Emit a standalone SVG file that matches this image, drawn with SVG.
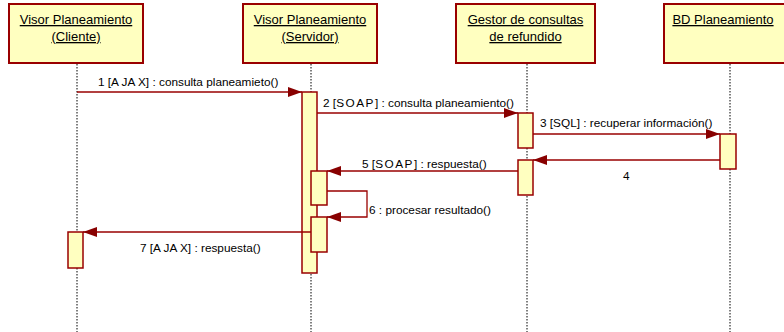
<svg xmlns="http://www.w3.org/2000/svg" width="784" height="332" viewBox="0 0 784 332">
<defs>
<style>
.box{fill:#FFFFC0;stroke:#990000;stroke-width:2}
.act{fill:#FFFFC0;stroke:#990000;stroke-width:1.5}
.life{stroke:#000;stroke-width:1;stroke-dasharray:1.5,1.5;fill:none}
.msg{stroke:#990000;stroke-width:1.3;fill:none}
.ht{font-family:"Liberation Sans",Arial,sans-serif;font-size:13px;fill:#000;text-anchor:middle;text-decoration:underline}
.mt{font-family:"Liberation Sans",Arial,sans-serif;font-size:11.8px;fill:#000}
</style>
<marker id="ah" viewBox="0 0 14 10" refX="14" refY="5" markerWidth="14" markerHeight="10" markerUnits="userSpaceOnUse" orient="auto">
<path d="M0,0 L14,5 L0,10 Z" fill="#880000"/>
</marker>
</defs>
<rect width="784" height="332" fill="#fff"/>
<g id="lifelines">
<line class="life" x1="77" y1="64" x2="77" y2="332"/>
<line class="life" x1="311" y1="64" x2="311" y2="332"/>
<line class="life" x1="527" y1="64" x2="527" y2="332"/>
<line class="life" x1="730" y1="64" x2="730" y2="332"/>
</g>
<g id="node-cliente">
<rect class="box" x="9" y="4" width="134" height="59"/>
<text class="ht" x="76" y="24">Visor Planeamiento</text>
<text class="ht" x="76" y="41">(Cliente)</text>
</g>
<g id="node-servidor">
<rect class="box" x="243" y="4" width="134" height="59"/>
<text class="ht" x="310" y="24">Visor Planeamiento</text>
<text class="ht" x="310" y="41">(Servidor)</text>
</g>
<g id="node-gestor">
<rect class="box" x="456" y="4" width="139" height="59"/>
<text class="ht" x="525.5" y="24">Gestor de consultas</text>
<text class="ht" x="525.5" y="41">de refundido</text>
</g>
<g id="node-bd">
<rect class="box" x="664" y="4" width="132" height="59"/>
<text class="ht" x="723" y="24">BD Planeamiento</text>
</g>
<g id="activations">
<rect class="act" x="302" y="92" width="15" height="181"/>
<rect class="act" x="518" y="113" width="15" height="35"/>
<rect class="act" x="720" y="134" width="16" height="35"/>
<rect class="act" x="518" y="160" width="15" height="35"/>
<rect class="act" x="311" y="171" width="16" height="34"/>
<rect class="act" x="311" y="217" width="16" height="35"/>
<rect class="act" x="68" y="232" width="15" height="36"/>
</g>
<g id="connectors">
<line class="msg" x1="77" y1="92" x2="302" y2="92" marker-end="url(#ah)"/>
<line class="msg" x1="317" y1="113" x2="518" y2="113" marker-end="url(#ah)"/>
<line class="msg" x1="533" y1="134" x2="720" y2="134" marker-end="url(#ah)"/>
<line class="msg" x1="720" y1="160" x2="533" y2="160" marker-end="url(#ah)"/>
<line class="msg" x1="518" y1="171" x2="327" y2="171" marker-end="url(#ah)"/>
<polyline class="msg" points="327,191 367,191 367,217 327,217" marker-end="url(#ah)"/>
<line class="msg" x1="311" y1="232" x2="83" y2="232" marker-end="url(#ah)"/>
</g>
<g id="labels">
<text class="mt" x="98" y="86">1 [A JA X] : consulta planeamieto()</text>
<text class="mt" x="323" y="107">2 [<tspan letter-spacing="1.5">SOAP</tspan>] : consulta planeamiento()</text>
<text class="mt" x="540" y="127">3 [SQL] : recuperar información()</text>
<text class="mt" x="623" y="180" font-size="13">4</text>
<text class="mt" x="362" y="168">5 [<tspan letter-spacing="1.5">SOAP</tspan>] : respuesta()</text>
<text class="mt" x="369" y="214">6 : procesar resultado()</text>
<text class="mt" x="140" y="252">7 [A JA X] : respuesta()</text>
</g>
</svg>
